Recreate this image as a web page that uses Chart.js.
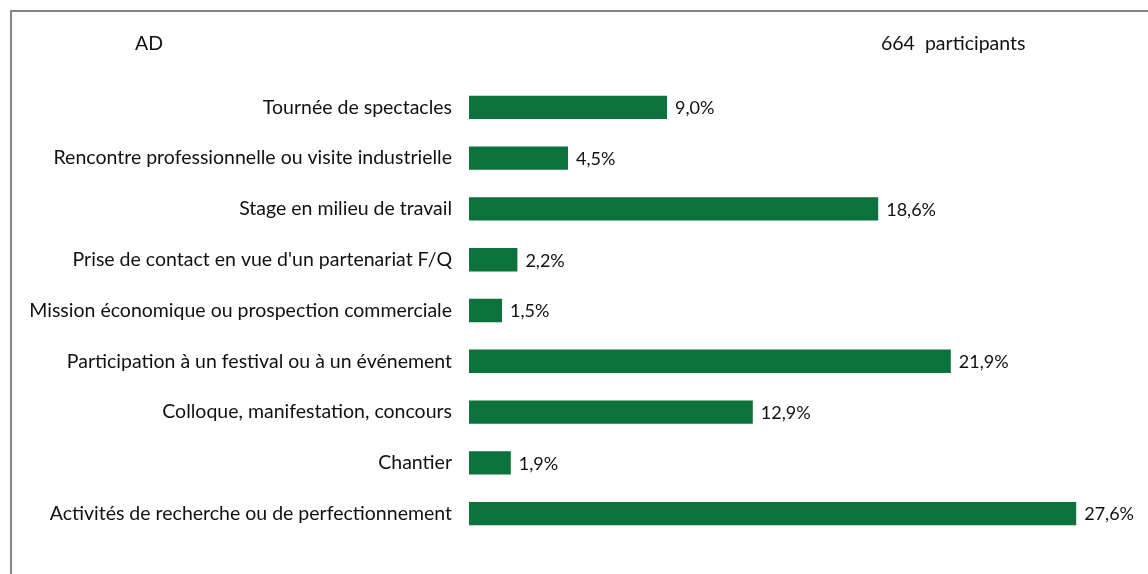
<!DOCTYPE html>
<html>
<head>
<meta charset="utf-8">
<script src="https://cdn.jsdelivr.net/npm/chart.js@4.4.1/dist/chart.umd.min.js"></script>
<style>
  html, body { margin: 0; padding: 0; background: #fff; }
  #wrap { position: relative; width: 1148px; height: 574px; }
  canvas { display: block; }
</style>
</head>
<body>
<div id="wrap"><canvas id="c" width="1148" height="574"></canvas></div>
<script>
const categories = [
  "Tournée de spectacles",
  "Rencontre professionnelle ou visite industrielle",
  "Stage en milieu de travail",
  "Prise de contact en vue d'un partenariat F/Q",
  "Mission économique ou prospection commerciale",
  "Participation à un festival ou à un événement",
  "Colloque, manifestation, concours",
  "Chantier",
  "Activités de recherche ou de perfectionnement"
];
const values = [9.0, 4.5, 18.6, 2.2, 1.5, 21.9, 12.9, 1.9, 27.6];
const valueLabels = ["9,0%", "4,5%", "18,6%", "2,2%", "1,5%", "21,9%", "12,9%", "1,9%", "27,6%"];
const titleLeft = "AD";
const titleRight = "664  participants";

const FONT = "Lato, 'DejaVu Sans', sans-serif";
const FSIZE = 19.5;
const VSIZE = 18;

const framePlugin = {
  id: 'frame',
  beforeDraw(chart) {
    const ctx = chart.ctx;
    ctx.save();
    ctx.strokeStyle = '#858585';
    ctx.lineWidth = 2;
    ctx.beginPath();
    ctx.moveTo(11, 574);
    ctx.lineTo(11, 11);
    ctx.lineTo(1148, 11);
    ctx.stroke();
    ctx.restore();
  },
  afterDraw(chart) {
    const ctx = chart.ctx;
    ctx.save();
    ctx.fillStyle = '#111';
    ctx.font = FSIZE + 'px ' + FONT;
    ctx.textBaseline = 'middle';
    ctx.textAlign = 'left';
    ctx.fillText(titleLeft, 135, 44);
    ctx.fillText(titleRight, 881, 44);
    ctx.restore();
  }
};

const valuePlugin = {
  id: 'vals',
  afterDatasetsDraw(chart) {
    const ctx = chart.ctx;
    const meta = chart.getDatasetMeta(0);
    ctx.save();
    ctx.fillStyle = '#111';
    ctx.font = VSIZE + 'px ' + FONT;
    ctx.textBaseline = 'middle';
    ctx.textAlign = 'left';
    meta.data.forEach((bar, i) => {
      ctx.fillText(valueLabels[i], bar.x + 8, bar.y + 1);
    });
    ctx.restore();
  }
};

new Chart(document.getElementById('c'), {
  type: 'bar',
  data: {
    labels: categories,
    datasets: [{
      data: values,
      backgroundColor: '#0b723b',
      borderWidth: 0,
      categoryPercentage: 1,
      barPercentage: 0.46
    }]
  },
  options: {
    indexAxis: 'y',
    responsive: false,
    animation: false,
    events: [],
    layout: { padding: { top: 82, bottom: 35, left: 0, right: 19 } },
    plugins: { legend: { display: false }, tooltip: { enabled: false }, title: { display: false } },
    scales: {
      x: { display: false, min: 0, max: 30 },
      y: {
        afterFit(scale) { scale.width = 469; },
        grid: { display: false, drawTicks: false },
        border: { display: false },
        ticks: { color: '#111', font: { family: FONT, size: FSIZE }, padding: 17, autoSkip: false }
      }
    }
  },
  plugins: [framePlugin, valuePlugin]
});
</script>
</body>
</html>
